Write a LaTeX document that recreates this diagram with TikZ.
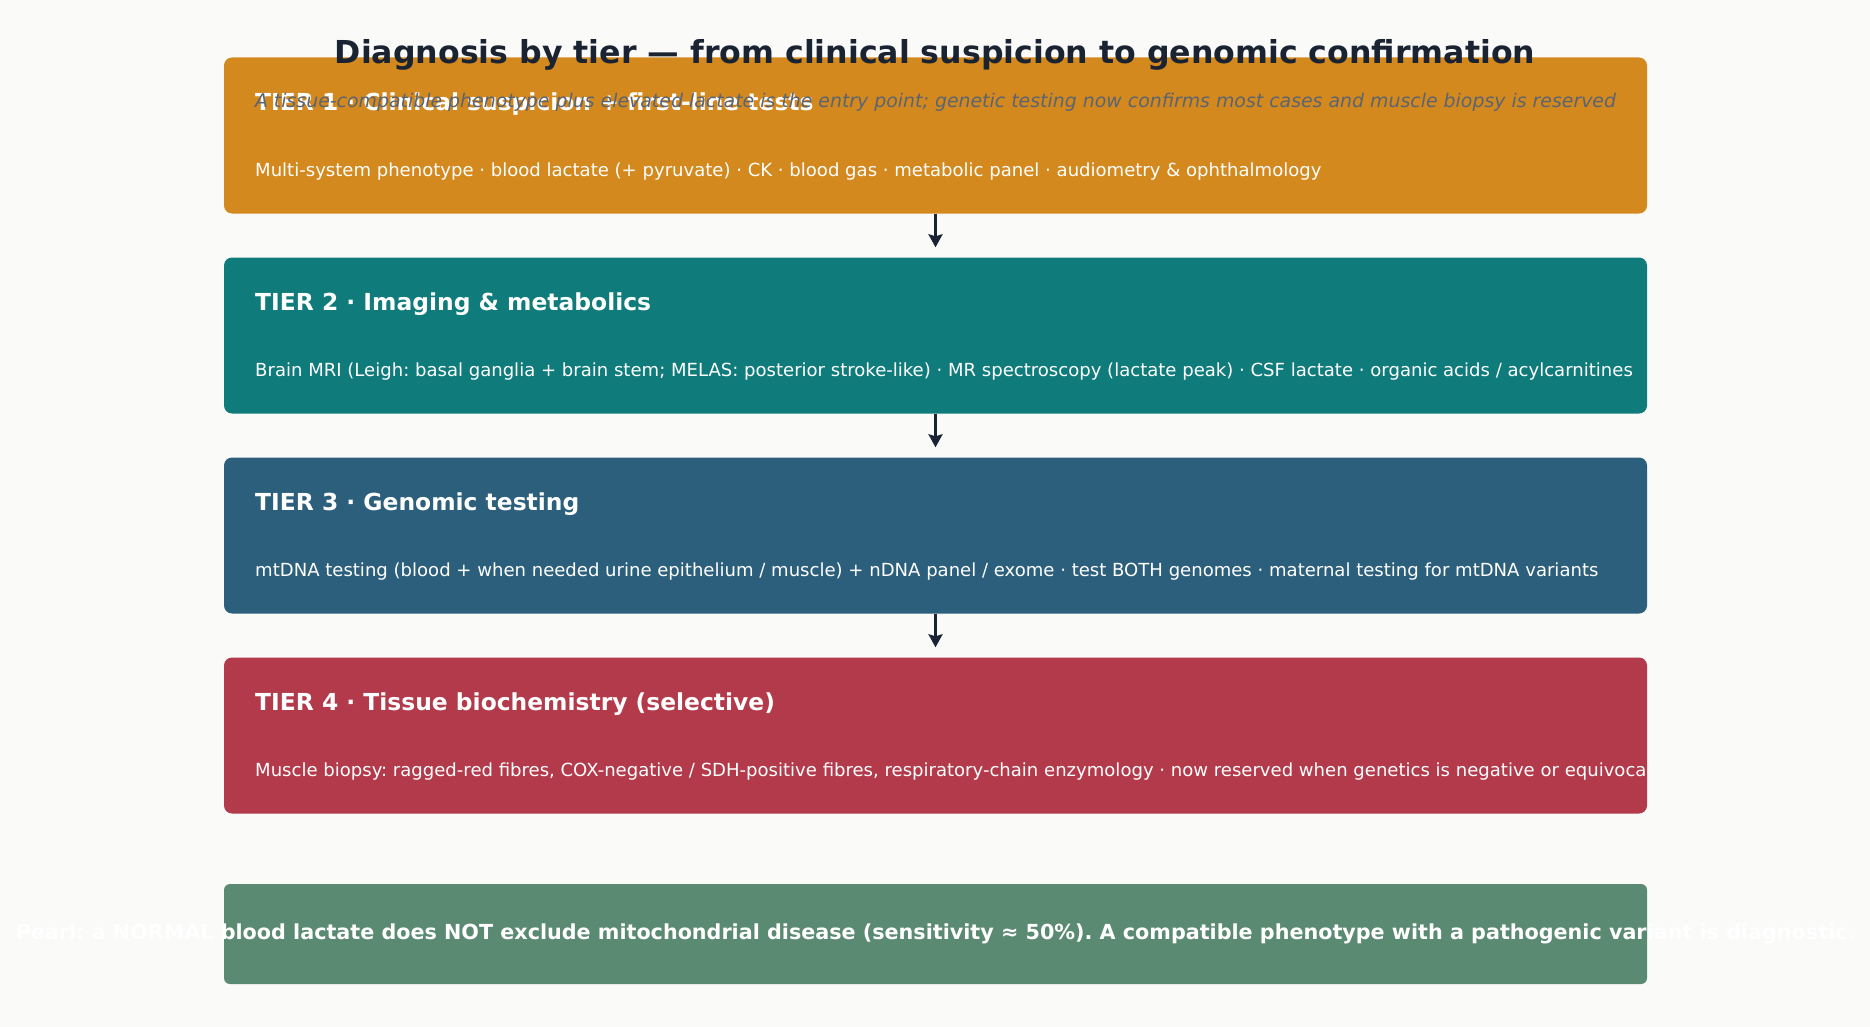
\documentclass[tikz,border=0pt]{standalone}
\usepackage{fontspec}
\setmainfont{DejaVu Sans}
\usetikzlibrary{arrows.meta}
\definecolor{bg}{HTML}{FAFAF8}
\definecolor{ink}{HTML}{1A2332}
\definecolor{subgray}{HTML}{5A6472}
\definecolor{cone}{HTML}{D4891E}
\definecolor{ctwo}{HTML}{0F7B7B}
\definecolor{cthree}{HTML}{2C5F7C}
\definecolor{cfour}{HTML}{B33A4A}
\definecolor{cpearl}{HTML}{5B8A72}
\frenchspacing
\tikzset{
  tierbox/.style={rectangle, rounded corners=8pt, minimum width=1423pt, minimum height=156pt, inner sep=0pt, draw=none},
  tiertitle/.style={anchor=west, text=white, font=\fontsize{23.4}{28}\selectfont\bfseries, inner sep=0pt},
  tierbody/.style={anchor=west, text=white, font=\fontsize{18.05}{22}\selectfont, inner sep=0pt},
  flowarrow/.style={draw=ink, line width=3.8pt, -{Stealth[width=14pt,length=13pt,inset=2pt]}, shorten >=10pt},
}
\begin{document}
\begin{tikzpicture}[x=1pt,y=-1pt]
\fill[bg] (0,0) rectangle (1870,1027);
\useasboundingbox (0,0) rectangle (1870,1027);

\node[tierbox, fill=cone] (t1) at (935.5,135.5) {};
\node[tierbox, fill=ctwo] (t2) at (935.5,335.5) {};
\node[tierbox, fill=cthree] (t3) at (935.5,535.5) {};
\node[tierbox, fill=cfour] (t4) at (935.5,735.5) {};
\node[rectangle, rounded corners=6pt, minimum width=1423pt, minimum height=100pt, inner sep=0pt, fill=cpearl] (pearl) at (935.5,934) {};

\draw[flowarrow] (t1.south) -- (t2.north);
\draw[flowarrow] (t2.south) -- (t3.north);
\draw[flowarrow] (t3.south) -- (t4.north);

\node[tiertitle] (h1) at (255,104.5) {TIER 1 · Clinical suspicion + first-line tests};
\node[tierbody] (b1) at (255,172) {Multi-system phenotype · blood lactate (+ pyruvate) · CK · blood gas · metabolic panel · audiometry \& ophthalmology};

\node[tiertitle] (h2) at (255,304.5) {TIER 2 · Imaging \& metabolics};
\node[tierbody] (b2) at (255,372) {Brain MRI (Leigh: basal ganglia + brain stem; MELAS: posterior stroke-like) · MR spectroscopy (lactate peak) · CSF lactate · organic acids / acylcarnitines};

\node[tiertitle] (h3) at (255,504.5) {TIER 3 · Genomic testing};
\node[tierbody] (b3) at (255,572) {mtDNA testing (blood + when needed urine epithelium / muscle) + nDNA panel / exome · test BOTH genomes · maternal testing for mtDNA variants};

\node[tiertitle] (h4) at (255,704.5) {TIER 4 · Tissue biochemistry (selective)};
\begin{scope}
\clip (t4.north west) rectangle (t4.south east);
\node[tierbody] (b4) at (255,772) {Muscle biopsy: ragged-red fibres, COX-negative / SDH-positive fibres, respiratory-chain enzymology · now reserved when genetics is negative or equivocal};
\end{scope}

\node[text=white, font=\fontsize{20.7}{25}\selectfont\bfseries, inner sep=0pt] (pearltext) at (935.5,934) {Pearl: a NORMAL blood lactate does NOT exclude mitochondrial disease (sensitivity ≈ 50\%). A compatible phenotype with a pathogenic variant is diagnostic.};

\node[text=ink, font=\fontsize{31.6}{37}\selectfont\bfseries, inner sep=0pt] (title) at (935,54.5) {Diagnosis by tier — from clinical suspicion to genomic confirmation};
\node[text=subgray, font=\fontsize{18.9}{23}\selectfont\itshape, inner sep=0pt] (subtitle) at (935.5,102.5) {A tissue-compatible phenotype plus elevated lactate is the entry point; genetic testing now confirms most cases and muscle biopsy is reserved};
\end{tikzpicture}
\end{document}
